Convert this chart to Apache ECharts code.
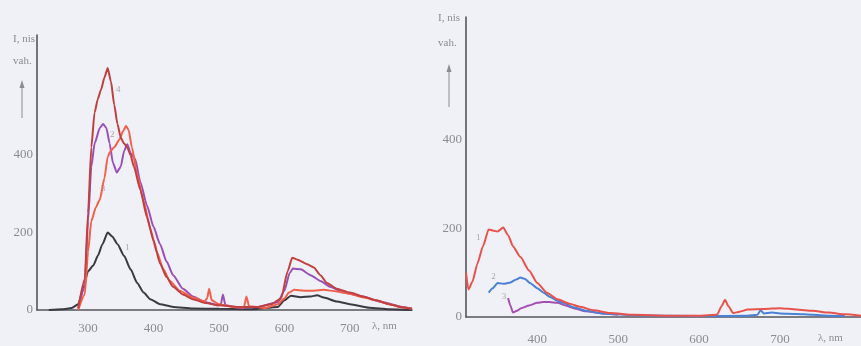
<!DOCTYPE html>
<html>
<head>
<meta charset="utf-8">
<script src="https://cdn.jsdelivr.net/npm/echarts@6/dist/echarts.min.js"></script>
<style>
html,body{margin:0;padding:0;background:#eff1f6;}
#c{width:861px;height:346px;}
</style>
</head>
<body>
<div id="c"></div>
<script>
// ---- Left panel data (λ, nm / intensity) ----
const L1x = [240,260,275,285,292,300,308,315,322,330,337,345,355,365,375,385,395,410,430,460,500,550,590,600,610,625,640,650,660,680,700,730,760,795];
const L1y = [0,2,5,15,50,100,115,140,170,200,190,170,140,105,70,45,28,15,8,4,3,2,8,25,37,33,35,38,32,22,15,6,2,0];
const L4x = [285,295,300,305,310,315,320,325,330,335,340,345,350,355,360,365,370,380,390,400,410,420,430,445,460,480,500,530,560,580,595,605,612,620,635,645,655,665,680,700,720,740,760,780,795];
const L4y = [5,80,250,420,510,545,570,600,625,590,530,480,445,430,420,400,370,310,240,180,120,85,60,40,28,18,12,8,8,15,30,100,135,130,118,110,90,70,55,45,35,25,15,7,3];
const L2x = [285,295,300,305,310,318,323,328,333,338,344,350,355,360,365,372,380,390,400,410,420,430,445,460,480,500,503,506,510,530,560,590,600,608,613,625,640,655,670,690,720,750,780,795];
const L2y = [3,60,230,370,430,470,480,470,430,380,355,370,410,428,405,390,330,270,215,170,125,90,55,35,20,12,15,40,12,6,8,20,50,95,107,105,90,75,60,45,35,20,8,3];
const L3x = [285,295,300,305,312,318,325,330,334,340,348,353,358,362,367,375,385,395,405,415,425,440,460,478,482,485,489,500,520,538,542,546,570,590,600,607,615,630,645,660,680,700,720,740,760,780,795];
const L3y = [0,40,150,230,265,285,340,395,410,420,440,460,475,465,420,350,280,210,150,105,75,50,32,22,30,55,25,15,8,6,35,10,5,15,30,45,52,50,50,52,48,42,33,25,15,7,3];
// ---- Right panel data ----
const R1x = [312,315,320,326,333,340,346,351,358,364,370,379,390,400,412,425,440,453,470,490,520,560,600,622,628,632,636,642,650,660,680,700,720,740,760,780,800];
const R1y = [100,62,80,120,160,198,195,193,202,185,160,136,105,77,55,40,30,23,15,9,5,3,3,5,25,39,25,9,12,17,18,20,17,14,10,6,3];
const R2x = [340,345,351,358,367,374,379,385,391,400,408,416,425,432,445,460,480,520,600,660,672,676,680,690,700,720,740,760,780];
const R2y = [55,65,77,75,78,85,89,86,77,65,55,45,37,32,22,14,8,4,2,3,5,15,8,10,8,7,5,3,2];
const R3x = [364,367,370,375,380,390,400,407,415,425,435,445,460,480,500];
const R3y = [43,25,10,14,20,26,32,34,34,32,26,20,13,8,5];
// tick labels
const leftXTicks = [300,400,500,600,700];
const rightXTicks = [400,500,600,700];
const yTicks = [0,200,400];
// curve number labels [λ, I, text]
const leftTags = [[346,569,'4'],[337,454,'2'],[323,313,'3'],[360,162,'1']];
const rightTags = [[327,180,'1'],[346,91,'2'],[359,45,'3']];

const zip = (xs, ys) => xs.map((x, i) => [x, ys[i]]);
const labelFont = {fontFamily:'Liberation Serif', fontSize:13, color:'#8a8c92'};

function xAxis(idx, min, max, ticks, nameGap){
  return {type:'value', gridIndex:idx, min:min, max:max,
    axisLine:{show:true, lineStyle:{color:'#55565c', width:1.6}},
    axisTick:{show:false}, splitLine:{show:false},
    axisLabel:Object.assign({customValues:ticks, margin:nameGap}, labelFont)};
}
function yAxis(idx, max){
  return {type:'value', gridIndex:idx, min:0, max:max,
    axisLine:{show:true, lineStyle:{color:'#55565c', width:1.6}},
    axisTick:{show:false}, splitLine:{show:false},
    axisLabel:Object.assign({customValues:yTicks, margin:4}, labelFont)};
}
function line(idx, xs, ys, color){
  return {type:'line', xAxisIndex:idx, yAxisIndex:idx, data:zip(xs, ys), showSymbol:false,
    smooth:0.2, smoothMonotone:'x', lineStyle:{color:color, width:2}, silent:true, z:3};
}
function tags(idx, data){
  return {type:'scatter', xAxisIndex:idx, yAxisIndex:idx, data:data, symbolSize:1,
    itemStyle:{color:'rgba(0,0,0,0)'}, silent:true,
    label:{show:true, position:'inside', formatter:p=>p.value[2], fontFamily:'Liberation Serif', fontSize:9, color:'#9a8f96'}};
}

const chart = echarts.init(document.getElementById('c'));
chart.setOption({
  backgroundColor:'#eff1f6',
  animation:false,
  grid:[{left:37, top:35, width:375, height:275}, {left:466, top:17, width:395, height:300}],
  xAxis:[xAxis(0, 222, 795, leftXTicks, 12), xAxis(1, 312, 800, rightXTicks, 16)],
  yAxis:[yAxis(0, 710), yAxis(1, 678)],
  series:[
    line(0, L1x, L1y, '#3b3a42'),
    line(0, L2x, L2y, '#9a4fb8'),
    line(0, L3x, L3y, '#f0604a'),
    line(0, L4x, L4y, '#c0403f'),
    tags(0, leftTags),
    line(1, R3x, R3y, '#a44fb0'),
    line(1, R2x, R2y, '#4a80d6'),
    line(1, R1x, R1y, '#e8524c'),
    tags(1, rightTags)
  ],
  graphic:[
    {type:'text', left:13, top:34, style:{text:'I, nis', font:'11px "Liberation Serif"', fill:'#8a8c92'}},
    {type:'text', left:13, top:56, style:{text:'vah.', font:'11px "Liberation Serif"', fill:'#8a8c92'}},
    {type:'line', shape:{x1:22, y1:84, x2:22, y2:118}, style:{stroke:'#8a8c92', lineWidth:1}},
    {type:'polygon', shape:{points:[[22,80],[19.5,88],[24.5,88]]}, style:{fill:'#8a8c92'}},
    {type:'text', left:372, top:321, style:{text:'λ, nm', font:'11px "Liberation Serif"', fill:'#8a8c92'}},
    {type:'text', left:438, top:13, style:{text:'I, nis', font:'11px "Liberation Serif"', fill:'#8a8c92'}},
    {type:'text', left:438, top:38, style:{text:'vah.', font:'11px "Liberation Serif"', fill:'#8a8c92'}},
    {type:'line', shape:{x1:449, y1:69, x2:449, y2:107}, style:{stroke:'#8a8c92', lineWidth:1}},
    {type:'polygon', shape:{points:[[449,64],[446.5,72],[451.5,72]]}, style:{fill:'#8a8c92'}},
    {type:'text', left:818, top:333, style:{text:'λ, nm', font:'11px "Liberation Serif"', fill:'#8a8c92'}}
  ]
});
</script>
</body>
</html>
